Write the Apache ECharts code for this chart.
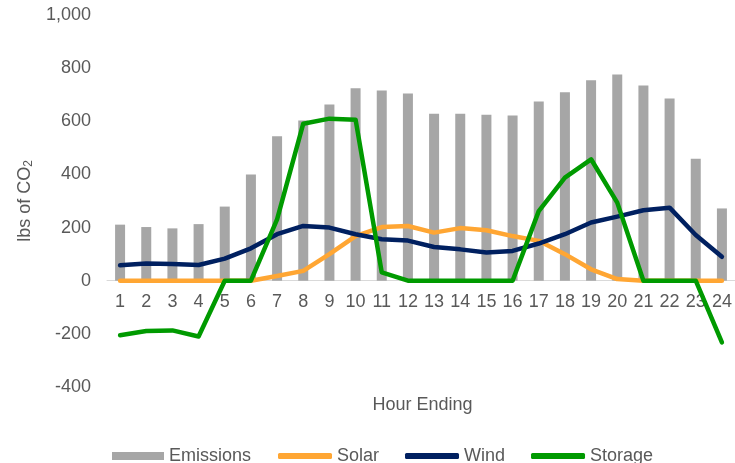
<!DOCTYPE html>
<html>
<head>
<meta charset="utf-8">
<script src="https://cdn.jsdelivr.net/npm/echarts@6/dist/echarts.min.js"></script>
<style>
  html, body { margin: 0; padding: 0; background: #fff; }
  #chart { width: 735px; height: 463px; }
</style>
</head>
<body>
<div id="chart"></div>
<script>
// Hourly CO2 (lbs) by hour ending
const hours = ['1','2','3','4','5','6','7','8','9','10','11','12','13','14','15','16','17','18','19','20','21','22','23','24'];
const emissions = [211, 202, 197, 213, 279, 400, 544, 603, 663, 724, 716, 705, 628, 628, 625, 622, 674, 709, 754, 776, 735, 686, 459, 272];
const solar = [0, 0, 0, 0, 0, 0, 18, 37, 100, 168, 202, 206, 181, 198, 190, 168, 150, 100, 43, 6, 0, 0, 0, 0];
const wind = [58, 65, 63, 59, 83, 122, 175, 206, 200, 175, 156, 151, 127, 118, 106, 112, 140, 175, 219, 241, 265, 275, 172, 90];
const storage = [-205, -189, -187, -210, 0, 0, 231, 591, 610, 606, 31, 0, 0, 0, 0, 0, 262, 388, 457, 294, 0, 0, 0, -232];
const yTicks = { min: -400, max: 1000, step: 200 };

const FONT = '"Liberation Sans", Arial, sans-serif';
const TEXT = '#595959';
const GRID = { left: 107, top: 15, width: 631, height: 372 };

const chart = echarts.init(document.getElementById('chart'));

function lineSeries(name, data, color) {
  return {
    name, type: 'line', data,
    symbol: 'none',
    lineStyle: { color, width: 4.5, cap: 'round', join: 'round' },
    itemStyle: { color },
    z: 3
  };
}

const legendText = { color: TEXT, fontSize: 18, fontFamily: FONT };

chart.setOption({
  animation: false,
  textStyle: { fontFamily: FONT },
  grid: Object.assign({ containLabel: false }, GRID),
  xAxis: {
    type: 'category',
    data: hours,
    axisLine: { onZero: false, lineStyle: { color: '#d9d9d9', width: 1 } },
    axisTick: { show: false },
    axisLabel: { color: TEXT, fontSize: 18, margin: 12, interval: 0, fontFamily: FONT }
  },
  yAxis: {
    type: 'value',
    min: yTicks.min, max: yTicks.max, interval: yTicks.step,
    splitLine: { show: false },
    axisLine: { show: false },
    axisTick: { show: false },
    axisLabel: {
      color: TEXT, fontSize: 18, margin: 16, fontFamily: FONT,
      formatter: v => v.toLocaleString('en-US')
    },
    name: '{t|lbs of CO}{s|2}',
    nameLocation: 'middle',
    nameGap: 68,
    nameRotate: 90,
    nameTextStyle: {
      rich: {
        t: { fontSize: 18, color: TEXT, fontFamily: FONT },
        s: { fontSize: 12, color: TEXT, fontFamily: FONT, padding: [8, 0, 0, 0] }
      }
    }
  },
  legend: [
    {
      left: 112, top: 447, padding: 0,
      itemWidth: 52, itemHeight: 8, itemGap: 26,
      textStyle: legendText,
      data: [{ name: 'Emissions', icon: 'rect' }]
    },
    {
      left: 278, top: 447, padding: 0,
      itemWidth: 54, itemHeight: 6, itemGap: 26,
      textStyle: legendText,
      data: [
        { name: 'Solar', icon: 'roundRect' },
        { name: 'Wind', icon: 'roundRect' },
        { name: 'Storage', icon: 'roundRect' }
      ]
    }
  ],
  graphic: [{
    type: 'text', x: GRID.left + GRID.width / 2, y: 405,
    style: { text: 'Hour Ending', fill: TEXT, font: '18px ' + FONT, align: 'center', verticalAlign: 'middle' }
  }],
  series: [
    {
      name: 'Emissions', type: 'bar', data: emissions,
      barWidth: 10,
      itemStyle: { color: '#a6a6a6' },
      z: 2
    },
    lineSeries('Solar', solar, '#ffa633'),
    lineSeries('Wind', wind, '#002060'),
    lineSeries('Storage', storage, '#009a00')
  ]
});

// Move the category axis (line and labels) up to the value-axis zero level
const zeroY = chart.convertToPixel({ yAxisIndex: 0 }, 0);
chart.setOption({ xAxis: { offset: zeroY - (GRID.top + GRID.height) } });
</script>
</body>
</html>
